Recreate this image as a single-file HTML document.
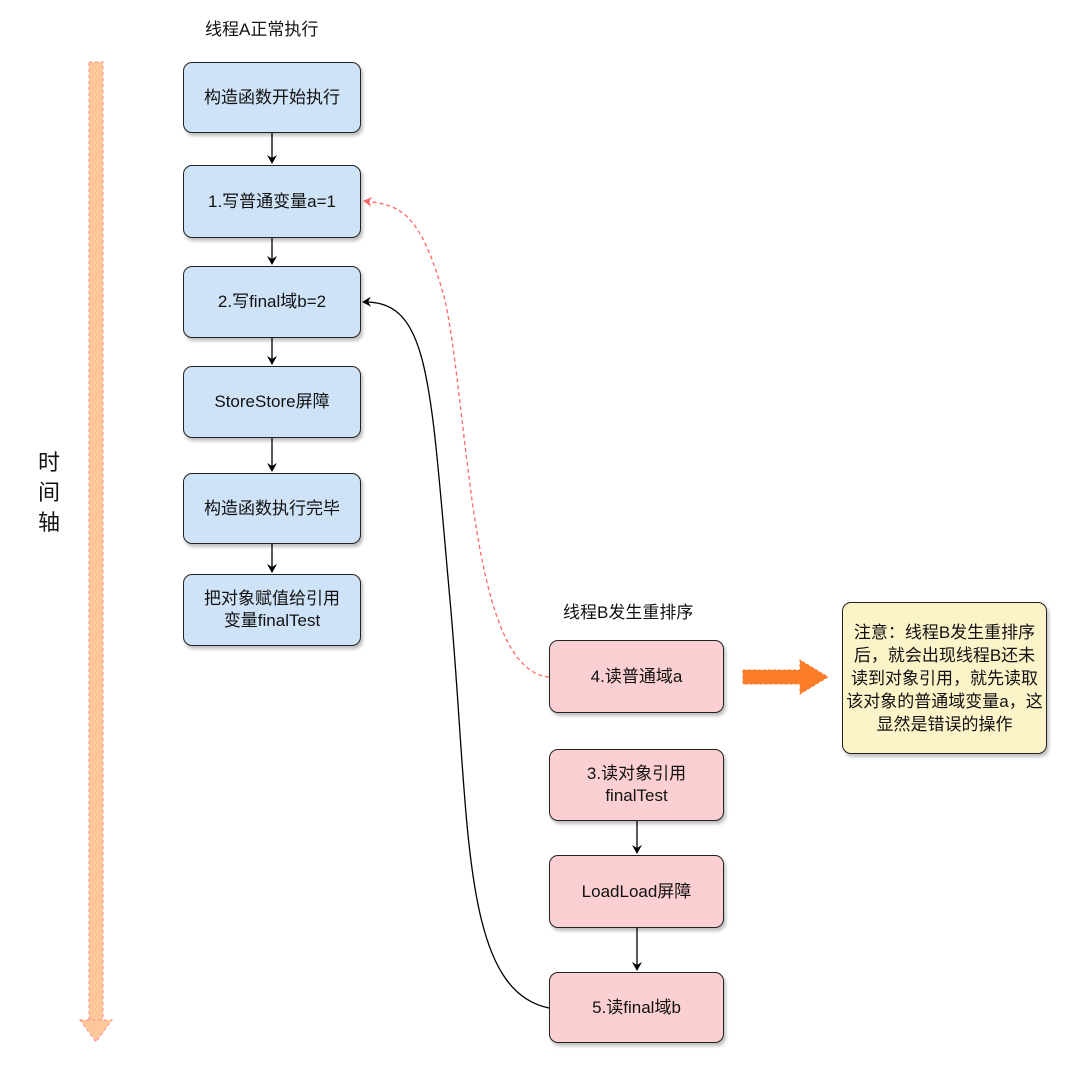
<!DOCTYPE html>
<html><head><meta charset="utf-8"><style>
body{margin:0;width:1080px;height:1065px;background:#fff;position:relative;font-family:"Liberation Sans","Noto Sans CJK SC",sans-serif;overflow:hidden}
.b{position:absolute;box-sizing:border-box;border:1.5px solid #222;border-radius:9px;display:flex;align-items:center;justify-content:center;text-align:center;font-size:17px;line-height:22px;color:#111;box-shadow:2px 3px 3px rgba(0,0,0,.25)}
.bl{background:#cfe3f8;left:183px;width:178px}
.pk{background:#fccfd2;left:549px;width:175px}
.t{position:absolute;font-size:17px;color:#111}
</style></head><body>
<svg width="1080" height="1065" style="position:absolute;left:0;top:0">
<defs>
<marker id="a" markerWidth="10" markerHeight="10" refX="8" refY="5" orient="auto" markerUnits="userSpaceOnUse"><path d="M0,0 L9,5 L0,10 L3,5z" fill="#000"/></marker>
<marker id="r" markerWidth="10" markerHeight="10" refX="8" refY="5" orient="auto" markerUnits="userSpaceOnUse"><path d="M0,0 L9,5 L0,10 L3,5z" fill="#f66"/></marker>
</defs>
<rect x="89" y="62" width="14" height="960" fill="#fdc79a" stroke="#f88" stroke-dasharray="3,3"/>
<path d="M80,1020 L112,1020 L96,1042z" fill="#fdc79a" stroke="#f88" stroke-dasharray="3,3"/>
<g stroke="#000" stroke-width="1.3" fill="none">
<line x1="272" y1="133" x2="272" y2="163" marker-end="url(#a)"/>
<line x1="272" y1="238" x2="272" y2="264" marker-end="url(#a)"/>
<line x1="272" y1="338" x2="272" y2="364" marker-end="url(#a)"/>
<line x1="272" y1="438" x2="272" y2="471" marker-end="url(#a)"/>
<line x1="272" y1="544" x2="272" y2="572" marker-end="url(#a)"/>
<line x1="637" y1="821" x2="637" y2="853" marker-end="url(#a)"/>
<line x1="637" y1="928" x2="637" y2="970" marker-end="url(#a)"/>
<path d="M549,1008 C460,990 470,820 450,600 C430,380 430,300 363,302" marker-end="url(#a)"/>
</g>
<path d="M549,677 C470,670 470,420 445,300 C420,210 400,205 364,201" stroke="#f66" stroke-width="1.3" fill="none" stroke-dasharray="4,3" marker-end="url(#r)"/>
<path d="M743,670 L800,670 L800,660 L828,677 L800,694 L800,684 L743,684z" fill="#fb7d2a" stroke="#fb7d2a" stroke-dasharray="3,2"/>
</svg>
<div class="t" style="left:205px;top:15px">线程A正常执行</div>
<div class="t" style="left:563px;top:598px">线程B发生重排序</div>
<div class="t" style="left:38px;top:448px;font-size:22px;line-height:30px;width:26px">时<br>间<br>轴</div>
<div class="b bl" style="top:62px;height:71px">构造函数开始执行</div>
<div class="b bl" style="top:165px;height:73px">1.写普通变量a=1</div>
<div class="b bl" style="top:266px;height:72px">2.写final域b=2</div>
<div class="b bl" style="top:366px;height:72px">StoreStore屏障</div>
<div class="b bl" style="top:473px;height:71px">构造函数执行完毕</div>
<div class="b bl" style="top:574px;height:72px">把对象赋值给引用<br>变量finalTest</div>
<div class="b pk" style="top:640px;height:73px">4.读普通域a</div>
<div class="b pk" style="top:749px;height:72px">3.读对象引用<br>finalTest</div>
<div class="b pk" style="top:855px;height:73px">LoadLoad屏障</div>
<div class="b pk" style="top:972px;height:71px">5.读final域b</div>
<div class="b" style="left:842px;top:602px;width:205px;height:152px;background:#fdf3c9;font-size:17px;line-height:23px;padding:0 3px">注意：线程B发生重排序后，就会出现线程B还未读到对象引用，就先读取该对象的普通域变量a，这显然是错误的操作</div>
</body></html>
